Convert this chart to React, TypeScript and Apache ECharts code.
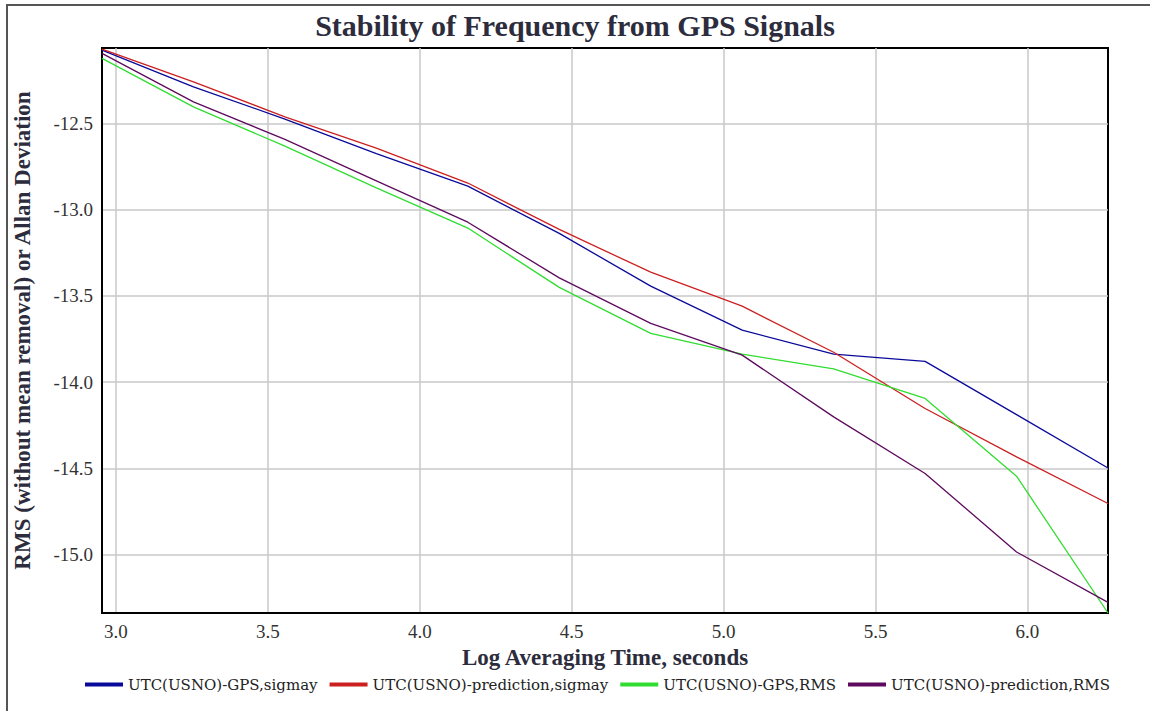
import React, { useEffect, useRef } from "react";
import * as echarts from "echarts";

const titleText = "Stability of Frequency from GPS Signals";
const xAxisName = "Log Averaging Time, seconds";
const yAxisName = "RMS (without mean removal) or Allan Deviation";

// log10 of averaging time (900 s * 2^n)
const logTau = [2.954, 3.255, 3.556, 3.857, 4.158, 4.459, 4.76, 5.061, 5.362, 5.663, 5.964, 6.265];

const seriesNames = [
  "UTC(USNO)-GPS,sigmay",
  "UTC(USNO)-prediction,sigmay",
  "UTC(USNO)-GPS,RMS",
  "UTC(USNO)-prediction,RMS",
];
const seriesColors = ["#0a0a9a", "#cc2020", "#30dd30", "#5e0a5e"];

const gpsSigmay = [-12.075, -12.288, -12.475, -12.676, -12.864, -13.138, -13.444, -13.699, -13.838, -13.88, -14.189, -14.498];
const predictionSigmay = [-12.069, -12.259, -12.462, -12.643, -12.846, -13.115, -13.363, -13.56, -13.827, -14.153, -14.434, -14.704];
const gpsRms = [-12.123, -12.404, -12.632, -12.874, -13.107, -13.451, -13.718, -13.838, -13.923, -14.095, -14.546, -15.339];
const predictionRms = [-12.094, -12.375, -12.593, -12.833, -13.073, -13.396, -13.66, -13.844, -14.202, -14.53, -14.985, -15.277];

const xTicks = [3.0, 3.5, 4.0, 4.5, 5.0, 5.5, 6.0];
const yTicks = [-15.0, -14.5, -14.0, -13.5, -13.0, -12.5];
const xMin = 2.954;
const xMax = 6.265;
const yMin = -15.339;
const yMax = -12.063;

const allSeries = [gpsSigmay, predictionSigmay, gpsRms, predictionRms];

const SERIF = "'Liberation Serif', 'Times New Roman', serif";
const LEGEND_FONT = "'DejaVu Serif', serif";

export default function App() {
  const ref = useRef<HTMLDivElement>(null);

  useEffect(() => {
    document.body.style.margin = "0";
    const chart = echarts.init(ref.current!, null, { renderer: "svg" });
    const option = {
      animation: false,
      backgroundColor: "#ffffff",
      title: {
        text: titleText,
        left: "center",
        top: 5,
        textStyle: {
          fontFamily: SERIF,
          fontSize: 30,
          fontWeight: "bold",
          color: "#2c2c3c",
        },
      },
      graphic: [
        {
          type: "rect",
          shape: { x: 7, y: 5, width: 1170, height: 730 },
          style: { fill: "none", stroke: "#555555", lineWidth: 2 },
          silent: true,
        },
      ],
      legend: {
        top: 672,
        left: 80,
        itemGap: 12,
        itemWidth: 38,
        itemHeight: 4,
        icon: "rect",
        textStyle: { fontFamily: LEGEND_FONT, fontSize: 15, color: "#222" },
        data: seriesNames,
      },
      grid: {
        left: 102,
        top: 48,
        right: 42,
        bottom: 98,
        show: true,
        borderColor: "#000",
        borderWidth: 2,
        containLabel: false,
      },
      xAxis: {
        type: "value",
        min: xMin,
        max: xMax,
        name: xAxisName,
        nameLocation: "middle",
        nameGap: 31,
        nameTextStyle: { fontFamily: SERIF, fontSize: 23, fontWeight: "bold", color: "#2c2c3c" },
        axisLine: { show: true, lineStyle: { color: "#000", width: 2 } },
        axisTick: { show: false, customValues: xTicks },
        axisLabel: {
          customValues: xTicks,
          formatter: (v: number) => v.toFixed(1),
          fontFamily: SERIF,
          fontSize: 19,
          color: "#333",
          margin: 9,
        },
        splitLine: { show: true, lineStyle: { color: "#c8c8c8", width: 1.5 } },
      },
      yAxis: {
        type: "value",
        min: yMin,
        max: yMax,
        name: yAxisName,
        nameLocation: "middle",
        nameRotate: 90,
        nameGap: 68,
        nameTextStyle: { fontFamily: SERIF, fontSize: 23, fontWeight: "bold", color: "#2c2c3c" },
        axisLine: { show: true, lineStyle: { color: "#000", width: 2 } },
        axisTick: { show: false, customValues: yTicks },
        axisLabel: {
          customValues: yTicks,
          formatter: (v: number) => v.toFixed(1),
          fontFamily: SERIF,
          fontSize: 19,
          color: "#333",
          margin: 9,
        },
        splitLine: { show: true, lineStyle: { color: "#c8c8c8", width: 1.5 } },
      },
      series: allSeries.map((vals, i) => ({
        name: seriesNames[i],
        type: "line",
        data: logTau.map((x, j) => [x, vals[j]]),
        showSymbol: false,
        symbol: "none",
        color: seriesColors[i],
        lineStyle: { color: seriesColors[i], width: 1.3 },
        z: 3,
      })),
    };
    chart.setOption(option);
    return () => chart.dispose();
  }, []);

  return (
    <div
      ref={ref}
      style={{ position: "absolute", left: 0, top: 0, width: 1150, height: 711 }}
    />
  );
}
